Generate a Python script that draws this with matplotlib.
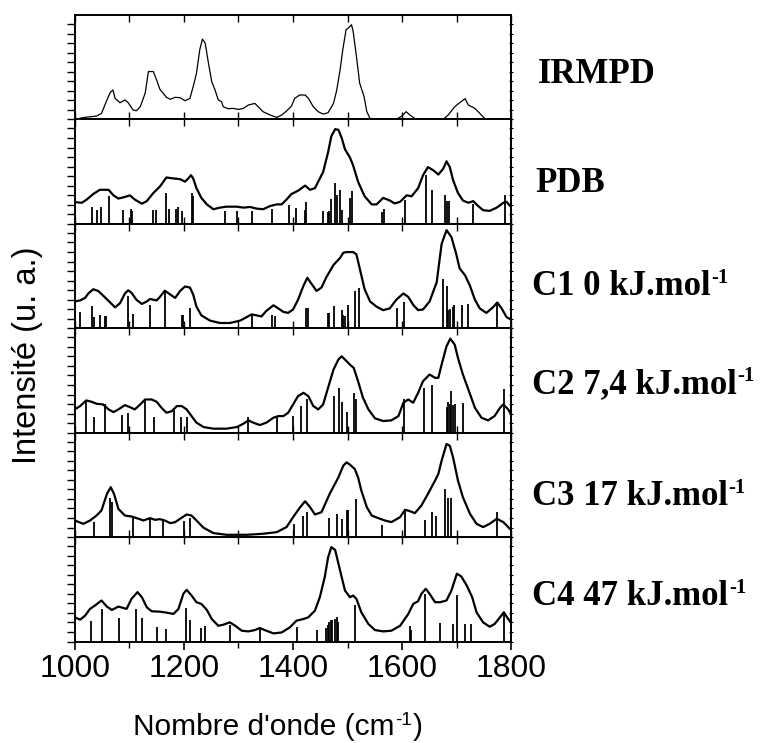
import matplotlib
matplotlib.use("Agg")
import matplotlib.pyplot as plt

plt.rcParams['font.family'] = ['Liberation Sans', 'DejaVu Sans']

# IRMPD (experimental)
irmpd_x = [1000, 1016, 1040, 1049, 1059, 1065, 1070, 1074, 1083, 1092,
           1098, 1107, 1113, 1120, 1129, 1135, 1144, 1150, 1156, 1162,
           1168, 1175, 1184, 1193, 1202, 1211, 1217, 1223, 1229, 1234,
           1239, 1245, 1251, 1257, 1263, 1269, 1272, 1281, 1290, 1300,
           1309, 1318, 1330, 1336, 1345, 1358, 1370, 1379, 1388, 1397,
           1403, 1412, 1422, 1428, 1437, 1446, 1455, 1464, 1474, 1480,
           1486, 1491, 1497, 1501, 1504, 1507, 1510, 1516, 1522, 1530,
           1535, 1541, 1550, 1589, 1599, 1607, 1614, 1623, 1632, 1675,
           1684, 1696, 1705, 1715, 1721, 1733, 1742, 1751, 1757, 1800]
irmpd_y = [0, 0.2, 0.35, 0.63, 2.04, 2.81, 3.09, 2.21, 1.75, 2.04,
           1.75, 0.98, 0.91, 1.33, 2.74, 5.02, 5.02, 4.14, 3.16, 2.74,
           2.32, 2.11, 2.32, 2.28, 1.96, 2.21, 3.44, 4.84, 7.3, 8.42,
           8.0, 5.89, 3.96, 3.09, 2.04, 1.86, 1.33, 1.12, 1.16, 1.05,
           1.16, 1.51, 1.68, 1.33, 0.81, 0.46, 0.21, 0.46, 0.88, 1.40,
           2.21, 2.56, 2.56, 2.21, 1.33, 0.81, 0.56, 0.70, 1.68, 3.09,
           5.19, 7.3, 9.4, 9.58, 9.75, 9.93, 9.23, 6.6, 3.79, 2.39,
           0.81, 0.1, 0, 0, 0.35, 0.81, 0.46, 0.1, 0, 0,
           0.46, 1.33, 1.75, 2.18, 1.51, 1.16, 0.63, 0.1, 0, 0]

# PDB
pdb_x = [1000, 1013, 1022, 1034, 1046, 1062, 1071, 1080, 1092, 1101,
         1110, 1123, 1132, 1144, 1156, 1168, 1181, 1193, 1202, 1208,
         1213, 1217, 1223, 1232, 1242, 1254, 1266, 1278, 1297, 1309,
         1321, 1333, 1345, 1358, 1370, 1379, 1388, 1397, 1409, 1422,
         1431, 1440, 1455, 1464, 1470, 1477, 1483, 1489, 1495, 1504,
         1510, 1519, 1531, 1544, 1553, 1565, 1577, 1586, 1596, 1608,
         1617, 1629, 1638, 1647, 1657, 1666, 1675, 1681, 1687, 1693,
         1702, 1711, 1721, 1730, 1739, 1748, 1760, 1773, 1785, 1791, 1800]
pdb_y = [2.28, 2.21, 2.55, 3.13, 3.57, 3.57, 2.99, 2.65, 2.82, 2.99,
         2.55, 2.11, 2.38, 3.23, 3.91, 4.86, 4.76, 4.69, 4.42, 4.76,
         5.1, 4.76, 3.74, 2.72, 2.04, 1.53, 1.7, 1.8, 1.8, 1.7,
         1.77, 1.6, 1.53, 1.87, 2.04, 2.04, 2.55, 3.13, 3.47, 4.01,
         3.57, 3.74, 5.44, 7.48, 9.18, 9.93, 9.86, 9.01, 7.82, 6.97,
         6.12, 4.42, 2.89, 2.04, 2.04, 2.72, 2.45, 2.14, 2.31, 2.99,
         2.89, 3.74, 5.1, 5.95, 5.61, 5.17, 5.78, 6.56, 5.95, 4.59,
         3.23, 2.45, 2.21, 2.38, 1.87, 1.43, 1.36, 1.7, 2.21, 2.31, 1.7]
pdb_sx = [1031, 1040, 1048, 1063, 1088, 1103, 1105, 1144, 1148, 1167,
          1173, 1185, 1189, 1196, 1214, 1217, 1275, 1297, 1324, 1362,
          1393, 1405, 1421, 1423, 1455, 1464, 1466, 1469, 1477, 1481,
          1486, 1489, 1504, 1508, 1562, 1566, 1605, 1643, 1655, 1679,
          1682, 1685, 1730, 1788]
pdb_sy = [1.8, 1.43, 1.77, 2.89, 1.43, 1.53, 1.36, 1.43, 1.43, 3.23,
          1.53, 1.6, 1.77, 1.36, 3.23, 2.89, 1.36, 1.36, 1.36, 1.53,
          1.94, 1.63, 1.43, 2.31, 1.36, 1.29, 1.36, 2.65, 4.25, 2.99,
          3.57, 1.43, 2.72, 3.4, 1.29, 1.53, 2.45, 5.17, 3.5, 2.99,
          2.38, 2.38, 2.11, 3.06]

# C1
c1_x = [1000, 1010, 1019, 1025, 1034, 1043, 1052, 1065, 1074, 1083,
        1092, 1098, 1104, 1113, 1123, 1132, 1138, 1144, 1150, 1156,
        1165, 1175, 1184, 1193, 1202, 1211, 1217, 1223, 1232, 1248,
        1266, 1284, 1303, 1315, 1324, 1333, 1342, 1351, 1364, 1373,
        1382, 1391, 1400, 1409, 1419, 1426, 1434, 1443, 1452, 1461,
        1474, 1486, 1492, 1498, 1510, 1516, 1522, 1531, 1541, 1553,
        1565, 1577, 1589, 1602, 1611, 1620, 1629, 1638, 1650, 1663,
        1672, 1681, 1690, 1699, 1705, 1715, 1724, 1733, 1742, 1754,
        1766, 1774, 1782, 1791, 1800]
c1_y = [2.81, 2.92, 3.18, 3.65, 4.09, 3.91, 3.43, 2.7, 2.19, 2.63,
        3.65, 3.98, 3.72, 2.99, 2.55, 2.81, 3.07, 2.99, 2.92, 3.28,
        3.94, 3.54, 3.18, 3.91, 4.38, 4.27, 3.54, 2.26, 1.35, 0.8,
        0.55, 0.55, 0.8, 1.17, 1.46, 1.35, 1.24, 1.82, 2.41, 2.08,
        1.72, 1.61, 1.97, 2.99, 4.45, 5.29, 4.64, 3.91, 4.27, 5.36,
        6.64, 7.37, 7.92, 7.99, 7.99, 7.74, 6.28, 4.09, 2.81, 2.26,
        1.9, 2.08, 2.99, 3.65, 3.28, 2.45, 1.9, 1.97, 2.81, 4.82,
        8.83, 10.29, 9.56, 7.74, 6.28, 5.55, 4.45, 2.99, 2.08, 1.61,
        2.19, 2.7, 2.08, 1.17, 0.88]
c1_sx = [1009, 1031, 1035, 1046, 1056, 1057, 1097, 1106, 1137, 1166,
         1196, 1199, 1212, 1324, 1361, 1367, 1423, 1428, 1464, 1466,
         1475, 1489, 1492, 1495, 1500, 1513, 1520, 1591, 1603, 1674,
         1681, 1684, 1688, 1692, 1694, 1710, 1721, 1774]
c1_sy = [1.72, 2.34, 1.17, 1.42, 1.31, 1.31, 3.43, 1.53, 2.45, 3.91,
         1.39, 1.39, 2.08, 1.53, 1.35, 1.24, 2.15, 2.15, 1.64, 1.64,
         2.37, 1.9, 1.39, 1.28, 2.48, 3.91, 4.27, 2.12, 2.74, 5.18,
         4.45, 1.9, 1.97, 2.19, 2.45, 2.41, 2.52, 2.77]

# C2
c2_x = [1000, 1010, 1021, 1031, 1040, 1052, 1062, 1071, 1080, 1092,
        1101, 1110, 1120, 1129, 1141, 1150, 1159, 1168, 1178, 1187,
        1196, 1205, 1214, 1223, 1236, 1254, 1278, 1297, 1309, 1318,
        1327, 1339, 1351, 1364, 1373, 1382, 1391, 1400, 1409, 1419,
        1428, 1437, 1446, 1455, 1464, 1474, 1483, 1489, 1495, 1504,
        1511, 1519, 1528, 1538, 1550, 1565, 1580, 1593, 1602, 1611,
        1620, 1629, 1638, 1650, 1660, 1666, 1672, 1681, 1688, 1696,
        1702, 1711, 1721, 1733, 1745, 1757, 1769, 1779, 1785, 1794, 1800]
c2_y = [2.44, 2.79, 3.38, 3.24, 3.03, 2.96, 2.44, 2.16, 2.44, 2.89,
        2.68, 2.44, 2.96, 3.48, 3.48, 3.24, 2.61, 2.09, 2.26, 2.79,
        2.79, 2.44, 1.74, 1.05, 0.59, 0.42, 0.42, 0.59, 0.94, 1.29,
        1.05, 0.8, 1.05, 1.57, 1.74, 1.74, 2.09, 2.96, 3.83, 4.18,
        3.83, 2.79, 2.44, 2.96, 4.7, 6.62, 7.67, 8.01, 7.67, 7.14,
        6.79, 5.4, 3.66, 2.44, 1.5, 1.22, 1.29, 1.74, 3.14, 3.48,
        3.14, 4.18, 5.4, 6.1, 5.75, 5.75, 7.14, 9.06, 9.86, 9.23,
        7.84, 6.1, 4.53, 2.61, 1.57, 1.29, 1.74, 2.61, 2.96, 2.44, 1.85]
c2_sx = [1021, 1036, 1056, 1086, 1097, 1129, 1146, 1182, 1195, 1206,
         1317, 1370, 1400, 1414, 1426, 1475, 1484, 1490, 1498, 1512,
         1516, 1603, 1639, 1654, 1681, 1684, 1687, 1690, 1693, 1697,
         1711, 1786]
c2_sy = [3.38, 1.67, 2.96, 1.85, 2.09, 3.48, 1.64, 2.37, 1.67, 1.64,
         1.67, 1.67, 1.74, 2.75, 3.48, 3.83, 4.67, 3.21, 2.2, 4.11,
         3.55, 3.48, 4.67, 4.95, 2.68, 3.24, 2.96, 4.36, 2.89, 3.03,
         3.14, 4.56]

# C3
c3_x = [1000, 1016, 1028, 1040, 1049, 1059, 1066, 1072, 1080, 1092,
        1104, 1117, 1126, 1138, 1147, 1156, 1165, 1175, 1184, 1193,
        1205, 1214, 1223, 1236, 1254, 1278, 1315, 1345, 1370, 1388,
        1400, 1413, 1422, 1431, 1440, 1452, 1467, 1483, 1492, 1498,
        1504, 1513, 1519, 1525, 1535, 1544, 1556, 1568, 1580, 1596,
        1605, 1614, 1623, 1635, 1647, 1660, 1666, 1672, 1681, 1687,
        1693, 1702, 1711, 1724, 1736, 1748, 1760, 1773, 1785, 1800]
c3_y = [1.74, 1.39, 1.74, 2.26, 2.79, 4.53, 5.23, 4.53, 2.96, 2.26,
        2.16, 1.92, 1.74, 1.99, 1.81, 1.88, 1.74, 1.46, 1.57, 1.92,
        2.37, 2.26, 1.74, 0.98, 0.42, 0.24, 0.24, 0.35, 0.52, 1.05,
        2.09, 3.14, 3.76, 3.14, 2.37, 2.61, 4.53, 6.27, 7.49, 7.84,
        7.6, 7.14, 6.27, 4.88, 3.14, 2.26, 1.99, 1.74, 1.57, 2.09,
        2.86, 2.72, 2.51, 3.31, 4.53, 5.92, 6.62, 8.01, 9.76, 9.58,
        8.36, 5.92, 4.18, 2.44, 1.39, 1.05, 1.39, 1.92, 1.57, 0.7]
c3_sx = [1035, 1065, 1068, 1106, 1138, 1161, 1200, 1212, 1402, 1419,
         1425, 1466, 1481, 1489, 1498, 1500, 1516, 1562, 1605, 1641,
         1654, 1661, 1678, 1683, 1690, 1774]
c3_sy = [1.57, 4.11, 3.66, 2.26, 1.92, 1.85, 1.64, 2.02, 1.39, 2.16,
         2.61, 2.02, 2.4, 1.92, 2.89, 2.86, 4.01, 1.25, 2.86, 1.74,
         2.61, 2.16, 5.05, 4.11, 4.11, 2.68]

# C4
c4_x = [1000, 1010, 1019, 1028, 1037, 1049, 1059, 1068, 1080, 1089,
        1095, 1104, 1115, 1123, 1132, 1141, 1156, 1168, 1181, 1190,
        1199, 1205, 1214, 1223, 1232, 1242, 1251, 1263, 1272, 1284,
        1294, 1306, 1318, 1330, 1339, 1348, 1364, 1379, 1394, 1406,
        1419, 1428, 1440, 1449, 1458, 1464, 1470, 1477, 1486, 1495,
        1504, 1510, 1516, 1525, 1538, 1550, 1565, 1580, 1596, 1611,
        1620, 1629, 1635, 1643, 1650, 1660, 1669, 1681, 1690, 1700,
        1708, 1718, 1728, 1736, 1748, 1760, 1769, 1779, 1786, 1794, 1800]
c4_y = [2.54, 2.29, 2.71, 3.42, 3.77, 4.3, 3.66, 3.31, 3.66, 3.52,
        3.42, 4.47, 5.18, 4.65, 3.59, 3.17, 3.13, 3.03, 2.89, 3.42,
        5.0, 5.42, 4.82, 4.12, 3.94, 3.31, 2.36, 1.65, 1.76, 2.01,
        1.65, 1.13, 1.06, 1.2, 1.41, 1.2, 0.85, 0.95, 1.48, 2.18,
        2.36, 2.54, 3.24, 4.65, 6.76, 8.8, 9.9, 9.6, 7.46, 5.35,
        4.65, 4.82, 4.47, 3.06, 1.83, 1.2, 1.06, 1.13, 1.65, 2.89,
        3.94, 4.23, 5.0, 5.53, 5.0, 4.12, 4.12, 4.3, 5.35, 7.11,
        6.83, 5.88, 4.65, 3.06, 2.01, 1.55, 1.83, 2.54, 3.06, 2.36, 1.9]
c4_sx = [1030, 1050, 1081, 1112, 1123, 1150, 1168, 1203, 1212, 1231,
         1239, 1285, 1340, 1408, 1444, 1461, 1464, 1466, 1469, 1472,
         1477, 1480, 1483, 1514, 1614, 1616, 1642, 1669, 1693, 1701,
         1715, 1725, 1786]
c4_sy = [2.18, 3.42, 2.46, 3.42, 2.46, 1.55, 1.34, 3.52, 2.25, 1.41,
         1.58, 1.73, 1.27, 1.55, 1.23, 1.41, 1.69, 2.08, 2.25, 2.29,
         2.36, 2.61, 2.08, 3.87, 1.65, 1.2, 5.0, 1.9, 1.83, 4.89,
         1.83, 1.83, 3.06]

labels = ["IRMPD", "PDB", "C1 0 kJ.mol", "C2 7,4 kJ.mol", "C3 17 kJ.mol", "C4 47 kJ.mol"]
has_sup = [False, False, True, True, True, True]

curves = [(irmpd_x, irmpd_y), (pdb_x, pdb_y), (c1_x, c1_y),
          (c2_x, c2_y), (c3_x, c3_y), (c4_x, c4_y)]
sticks = [None, (pdb_sx, pdb_sy), (c1_sx, c1_sy),
          (c2_sx, c2_sy), (c3_sx, c3_sy), (c4_sx, c4_sy)]

# label placement (figure fraction)
label_x = [0.698, 0.695, 0.690, 0.690, 0.690, 0.690]
label_base = [0.8883, 0.7416, 0.6030, 0.4711, 0.3203, 0.1857]

fig, axes = plt.subplots(6, 1, sharex=True, figsize=(7.71, 7.43), dpi=100)
fig.subplots_adjust(left=0.0969, right=0.6634, top=0.9798, bottom=0.1366, hspace=0)

for i, ax in enumerate(axes):
    x, y = curves[i]
    ax.plot(x, y, color="k", lw=0.9 if i == 0 else 1.6)
    if sticks[i] is not None:
        ax.vlines(sticks[i][0], 0, sticks[i][1], color="k", lw=1.3)
    ax.set_xlim(1000, 1800)
    ax.set_ylim(0, 10.95)
    ax.set_yticks(range(11))
    ax.set_yticklabels([])
    ax.tick_params(axis="y", direction="out", length=6, width=1, right=False)
    for sp in ax.spines.values():
        sp.set_linewidth(1.4)
    sec = ax.secondary_yaxis("right")
    sec.set_yticks(range(11))
    sec.set_yticklabels([])
    sec.tick_params(direction="inout", length=3, width=0.8)
    sec.spines["right"].set_linewidth(1.4)

    t = fig.text(label_x[i], label_base[i], labels[i], family="Liberation Serif",
                 weight="bold", size=25, va="baseline", ha="left")
    if has_sup[i]:
        ax.annotate("-1", xy=(1, 1), xycoords=t, xytext=(0.5, 1.5),
                    textcoords="offset points", va="top", ha="left",
                    family="Liberation Serif", weight="bold", size=15,
                    annotation_clip=False)

axes[0].set_xticks([1000, 1200, 1400, 1600, 1800])
axes[0].set_xticks([1100, 1300, 1500, 1700], minor=True)

for ax in axes[:-1]:
    ax.tick_params(axis="x", which="both", direction="in", top=True, bottom=True,
                   length=5, width=1, labelbottom=False)

last = axes[-1]
last.tick_params(axis="x", which="major", direction="out", length=6, width=1.2,
                 top=False, pad=3, labelsize=23)
last.tick_params(axis="x", which="minor", direction="out", length=4, width=1, top=False)
top = last.secondary_xaxis("top")
top.set_xticks([1000, 1200, 1400, 1600, 1800])
top.set_xticks([1100, 1300, 1500, 1700], minor=True)
top.set_xticklabels([])
top.tick_params(axis="x", which="both", direction="in", length=5, width=1)

fig.text(0.0363, 0.5222, "Intensité (u. a.)", rotation=90, ha="center", va="center", size=23.5)

xl = fig.text(133 / 771, 1 - 735 / 743, "Nombre d'onde (cm", ha="left", va="baseline", size=21.5)
sup = last.annotate("-1", xy=(1, 1), xycoords=xl, xytext=(0.5, 1), textcoords="offset points",
                    va="top", ha="left", size=13.5, annotation_clip=False)
last.annotate(")", xy=(1, 0), xycoords=(sup, xl), xytext=(0.5, 0), textcoords="offset points",
              va="bottom", ha="left", size=21.5, annotation_clip=False)

fig.savefig("out.png", dpi=100)
